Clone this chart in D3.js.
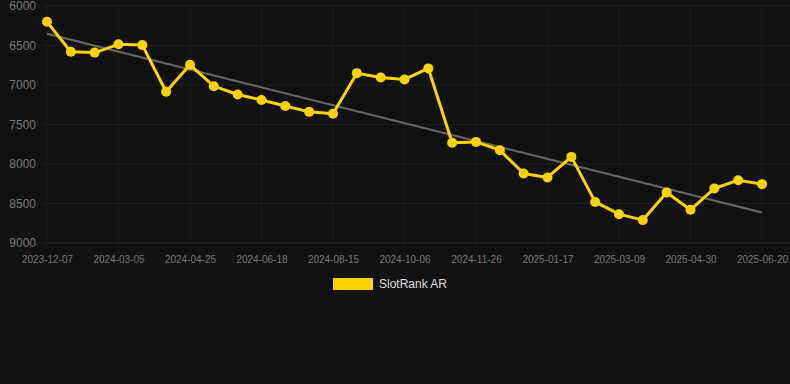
<!DOCTYPE html>
<html>
<head>
    <title>SlotRank AR</title>
    <script src="https://d3js.org/d3.v7.min.js"></script>
    <style>
        body { margin: 0; background: #121212; }
        svg { display: block; font-family: Arial, "Liberation Sans", sans-serif; }
    </style>
</head>
<body>
    <svg id="chart">
        <g id="grid"></g>
        <g id="x"></g>
        <g id="y"></g>
        <g id="trend"></g>
        <g id="shapes"></g>
        <g id="legend"></g>
    </svg>

    <script>

        var dates = [
            "2023-12-07", "2024-01-06", "2024-02-04", "2024-03-05", "2024-03-22", "2024-04-08",
            "2024-04-25", "2024-05-13", "2024-05-31", "2024-06-18", "2024-07-07", "2024-07-26",
            "2024-08-15", "2024-09-01", "2024-09-18", "2024-10-06", "2024-10-23", "2024-11-09",
            "2024-11-26", "2024-12-13", "2024-12-31", "2025-01-17", "2025-02-03", "2025-02-20",
            "2025-03-09", "2025-03-26", "2025-04-13", "2025-04-30", "2025-05-17", "2025-06-03",
            "2025-06-20"
        ];

        var ranks = [
            6200, 6580, 6590, 6485, 6495, 7085,
            6745, 7015, 7120, 7190, 7265, 7340,
            7365, 6850, 6905, 6930, 6790, 7730,
            7720, 7825, 8120, 8170, 7910, 8480,
            8635, 8710, 8360, 8580, 8310, 8205,
            8255
        ];

        var yTicks = [6000, 6500, 7000, 7500, 8000, 8500, 9000];
        var seriesName = "SlotRank AR";

        var width = 790;
        var height = 384;
        var margin = {top: 6, right: 0, bottom: 141, left: 43};

        var svg = d3.select("#chart")
                    .attr("width", width)
                    .attr("height", height);

        var x = d3.scalePoint()
            .domain(dates)
            .range([47, 762]);

        var y = d3.scaleLinear()
            .domain([6000, 9000])
            .range([margin.top, height - margin.bottom]);

        var shownDates = dates.filter(function(d, i) { return i % 3 === 0; });

        // grid
        var grid = svg.select("#grid");
        grid.selectAll(".hgrid")
            .data(yTicks)
            .enter().append("line")
            .attr("x1", margin.left)
            .attr("x2", width)
            .attr("y1", function(d) { return y(d); })
            .attr("y2", function(d) { return y(d); })
            .attr("stroke", function(d) { return d === 9000 ? "#2a2a2a" : "#1f1f1f"; })
            .attr("stroke-width", 1);

        grid.selectAll(".vgrid")
            .data(shownDates)
            .enter().append("line")
            .attr("x1", function(d) { return x(d); })
            .attr("x2", function(d) { return x(d); })
            .attr("y1", margin.top)
            .attr("y2", y(9000) + 5)
            .attr("stroke", "#1b1b1b")
            .attr("stroke-width", 1);

        // axes
        var yAxis = d3.axisLeft(y)
            .tickValues(yTicks)
            .tickFormat(d3.format("d"))
            .tickSize(0)
            .tickPadding(7);

        svg.select("#y")
            .attr("transform", "translate(" + margin.left + ",0)")
            .call(yAxis)
            .call(function(g) { g.select(".domain").remove(); })
            .selectAll("text")
            .attr("fill", "#777")
            .style("font-size", "12px");

        var xAxis = d3.axisBottom(x)
            .tickValues(shownDates)
            .tickSize(0)
            .tickPadding(13);

        svg.select("#x")
            .attr("transform", "translate(0," + y(9000) + ")")
            .call(xAxis)
            .call(function(g) { g.select(".domain").remove(); })
            .selectAll("text")
            .attr("fill", "#777")
            .style("font-size", "10px");

        // trend line (least squares fit of the series)
        var n = ranks.length;
        var xs = d3.range(n);
        var mx = d3.mean(xs), my = d3.mean(ranks);
        var slope = d3.sum(xs, function(i) { return (i - mx) * (ranks[i] - my); }) /
                    d3.sum(xs, function(i) { return (i - mx) * (i - mx); });
        var icpt = my - slope * mx;

        svg.select("#trend").append("line")
            .attr("x1", x(dates[0]))
            .attr("y1", y(icpt))
            .attr("x2", x(dates[n - 1]))
            .attr("y2", y(icpt + slope * (n - 1)))
            .attr("stroke", "#6a6a6a")
            .attr("stroke-width", 2);

        // series
        var data = dates.map(function(d, i) { return {date: d, value: ranks[i]}; });

        var line = d3.line()
            .x(function(d) { return x(d.date); })
            .y(function(d) { return y(d.value); });

        var shapes = svg.select("#shapes");
        shapes.append("path")
            .datum(data)
            .attr("d", line)
            .attr("fill", "none")
            .attr("stroke", "#ffd200")
            .attr("stroke-width", 3)
            .attr("stroke-linejoin", "round");

        shapes.selectAll(".dot")
            .data(data)
            .enter().append("circle")
            .attr("class", "dot")
            .attr("cx", function(d) { return x(d.date); })
            .attr("cy", function(d) { return y(d.value); })
            .attr("r", 5)
            .attr("fill", "#ffd200");

        // legend
        var legend = svg.select("#legend").attr("transform", "translate(333,278)");
        legend.append("rect")
            .attr("width", 40)
            .attr("height", 12)
            .attr("fill", "#ffd200");
        legend.append("text")
            .attr("x", 46)
            .attr("y", 6)
            .attr("dy", "0.35em")
            .attr("fill", "#dddddd")
            .style("font-size", "12px")
            .text(seriesName);

    </script>

</body>
</html>
